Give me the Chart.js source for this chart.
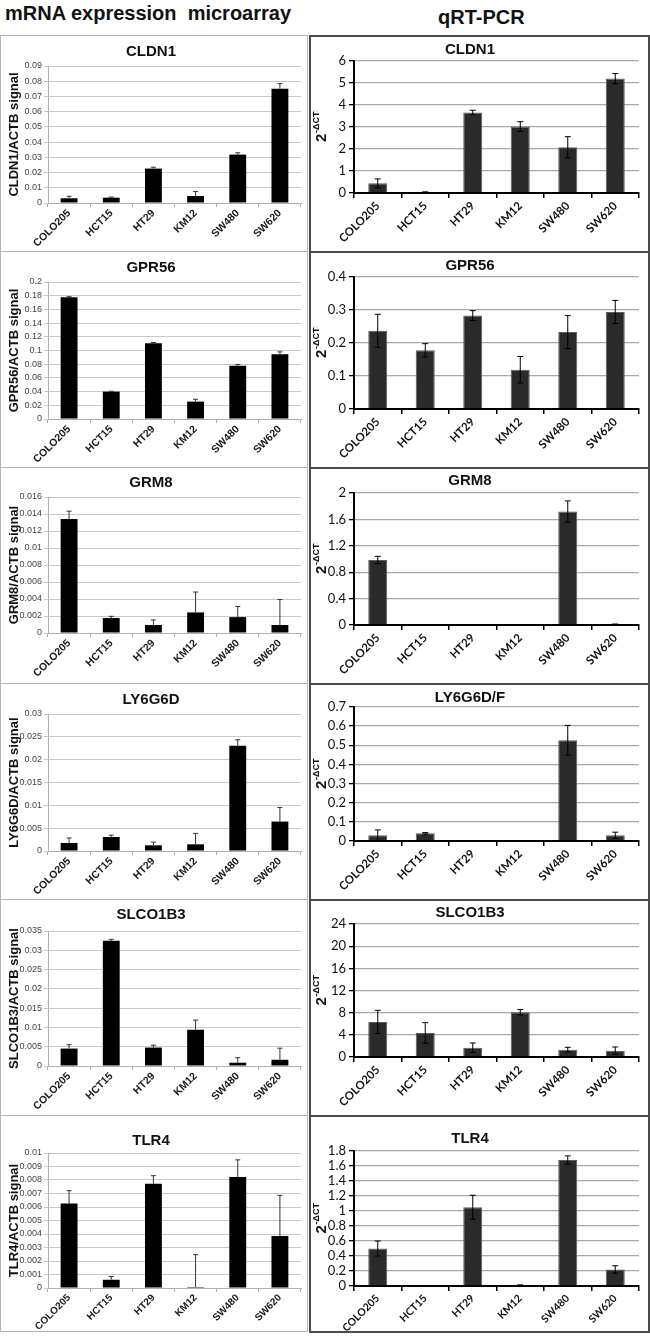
<!DOCTYPE html>
<html>
<head>
<meta charset="utf-8">
<script src="https://cdn.jsdelivr.net/npm/chart.js@4.4.1/dist/chart.umd.min.js"></script>
<style>
  body { margin: 0; background: #fff; width: 650px; height: 1336px; position: relative; overflow: hidden; }
  .hdr { position: absolute; font-family: Arial, "Liberation Sans", sans-serif; font-weight: bold; color: #111; white-space: pre; }
  .box { position: absolute; box-sizing: border-box; }
  .lbox { border: 1px solid #b4b4b4; }
  .rbox { border: 2px solid #4a4a4a; }
  canvas { position: absolute; }
</style>
</head>
<body>
<div class="hdr" style="left:5px; top:2px; font-size:20px;">mRNA expression  microarray</div>
<div class="hdr" style="left:438px; top:6px; font-size:20px;">qRT-PCR</div>
<div id="page"></div>
<script>
// cell lines on every x axis
var cellLines = ["COLO205", "HCT15", "HT29", "KM12", "SW480", "SW620"];

// microarray (left column): gene/ACTB signal, value and error
var genes = ["CLDN1", "GPR56", "GRM8", "LY6G6D", "SLCO1B3", "TLR4"];
var arrCLDN1 = [0.0031, 0.0035, 0.0226, 0.0046, 0.0318, 0.0751];
var errCLDN1 = [0.0013, 0.0004, 0.0009, 0.0029, 0.0012, 0.0033];
var arrGPR56 = [0.1776, 0.0400, 0.1107, 0.0254, 0.0776, 0.0946];
var errGPR56 = [0.0010, 0.0005, 0.0010, 0.0034, 0.0020, 0.0034];
var arrGRM8 = [0.0134, 0.00176, 0.00094, 0.00242, 0.00187, 0.00094];
var errGRM8 = [0.00093, 0.0002, 0.0006, 0.0024, 0.00125, 0.0030];
var arrLY6G6D = [0.00176, 0.00307, 0.00124, 0.00146, 0.02305, 0.00644];
var errLY6G6D = [0.0011, 0.0004, 0.0007, 0.0024, 0.0013, 0.0031];
var arrSLCO1B3 = [0.00452, 0.03244, 0.00478, 0.0094, 0.00085, 0.00162];
var errSLCO1B3 = [0.0010, 0.0004, 0.0006, 0.0025, 0.0013, 0.0030];
var arrTLR4 = [0.00626, 0.00061, 0.00772, 0.00007, 0.00823, 0.00386];
var errTLR4 = [0.00095, 0.00024, 0.0006, 0.0024, 0.00126, 0.0030];

// qRT-PCR (right column): 2^-dCT, value and error
var pcrTitles = ["CLDN1", "GPR56", "GRM8", "LY6G6D/F", "SLCO1B3", "TLR4"];
var pcrCLDN1 = [0.44, 0.04, 3.66, 3.02, 2.08, 5.20];
var pcrErrCLDN1 = [0.20, 0.01, 0.10, 0.22, 0.48, 0.23];
var pcrGPR56 = [0.237, 0.178, 0.283, 0.119, 0.233, 0.294];
var pcrErrGPR56 = [0.050, 0.020, 0.015, 0.040, 0.050, 0.035];
var pcrGRM8 = [0.985, 0, 0, 0, 1.72, 0.01];
var pcrErrGRM8 = [0.055, 0, 0, 0, 0.16, 0.005];
var pcrLY6G6D = [0.030, 0.040, 0, 0, 0.526, 0.030];
var pcrErrLY6G6D = [0.028, 0.004, 0, 0, 0.078, 0.016];
var pcrSLCO1B3 = [6.33, 4.34, 1.69, 8.08, 1.33, 1.15];
var pcrErrSLCO1B3 = [2.10, 1.86, 0.84, 0.48, 0.42, 0.66];
var pcrTLR4 = [0.50, 0, 1.05, 0.01, 1.68, 0.22];
var pcrErrTLR4 = [0.10, 0, 0.16, 0.005, 0.055, 0.05];

// axis tops and steps
var arrMax = [0.09, 0.2, 0.016, 0.03, 0.035, 0.01];
var arrStep = [0.01, 0.02, 0.002, 0.005, 0.005, 0.001];
var pcrMax = [6, 0.4, 2, 0.7, 24, 1.8];
var pcrStep = [1, 0.1, 0.4, 0.1, 4, 0.2];

var arrValues = [arrCLDN1, arrGPR56, arrGRM8, arrLY6G6D, arrSLCO1B3, arrTLR4];
var arrErrors = [errCLDN1, errGPR56, errGRM8, errLY6G6D, errSLCO1B3, errTLR4];
var pcrValues = [pcrCLDN1, pcrGPR56, pcrGRM8, pcrLY6G6D, pcrSLCO1B3, pcrTLR4];
var pcrErrors = [pcrErrCLDN1, pcrErrGPR56, pcrErrGRM8, pcrErrLY6G6D, pcrErrSLCO1B3, pcrErrTLR4];

var ROW_H = 216, FIRST_ROW = 35;
var ARIAL = "Arial, 'Liberation Sans', sans-serif";
var CAL = "Lato, 'Open Sans', sans-serif";

// per row: plot top / zero line offsets inside the panel
var leftTop = [31, 31, 30, 31, 32, 38], leftZero = [168, 168, 166, 168, 167, 173];
var rightTop = [26, 26, 26, 24, 25, 36], rightZero = [158, 158, 158, 158, 158, 171];
var titleY = [16, 16, 15, 16, 15, 25];
var labelSize = [10.5, 10.5, 10.5, 10.5, 10.5, 10];
var rLabelSize = [11.5, 11.5, 11.5, 11.5, 11.5, 10.5];

//draws the error whiskers from the dataset's errors array
var errorBars = {
    id: "errorBars",
    afterDatasetsDraw: function(chart, args, opts) {
        var ctx = chart.ctx, ys = chart.scales.y;
        var ds = chart.data.datasets[0];
        var meta = chart.getDatasetMeta(0);
        ctx.save();
        ctx.strokeStyle = opts.color;
        ctx.lineWidth = opts.width;
        meta.data.forEach(function(bar, i) {
            var v = ds.data[i], e = ds.errors[i];
            if (!e) return;
            var yTop = ys.getPixelForValue(v + e);
            var yLow = opts.plusOnly ? ys.getPixelForValue(v) : ys.getPixelForValue(Math.max(0, v - e));
            var c = opts.cap;
            ctx.beginPath();
            ctx.moveTo(bar.x, yTop); ctx.lineTo(bar.x, yLow);
            ctx.moveTo(bar.x - c, yTop); ctx.lineTo(bar.x + c, yTop);
            if (!opts.plusOnly && v - e > 0) { ctx.moveTo(bar.x - c, yLow); ctx.lineTo(bar.x + c, yLow); }
            ctx.stroke();
        });
        ctx.restore();
    }
};

//panel heading and the 2^-dCT axis label
var panelText = {
    id: "panelText",
    afterDraw: function(chart, args, opts) {
        var ctx = chart.ctx;
        ctx.save();
        ctx.fillStyle = "#111";
        ctx.textAlign = "center";
        ctx.textBaseline = "middle";
        ctx.font = "bold 15px " + ARIAL;
        ctx.fillText(opts.title, opts.titleX, opts.titleY);
        if (opts.dct) {
            var cy = (chart.chartArea.top + chart.chartArea.bottom) / 2;
            ctx.translate(opts.dctX, cy);
            ctx.rotate(-Math.PI / 2);
            ctx.textAlign = "left";
            ctx.font = "bold 15px " + ARIAL;
            var w2 = ctx.measureText("2").width;
            ctx.font = "bold 9px " + ARIAL;
            var ws = ctx.measureText("-\u0394CT").width;
            var x0 = -(w2 + ws) / 2;
            ctx.font = "bold 15px " + ARIAL;
            ctx.fillText("2", x0, 2);
            ctx.font = "bold 9px " + ARIAL;
            ctx.fillText("-\u0394CT", x0 + w2 + 0.5, -3);
        }
        ctx.restore();
    }
};

function fmt(v) { return String(+v.toFixed(6)); }

function addBox(cls, x, y, w, h) {
    var d = document.createElement("div");
    d.className = "box " + cls;
    d.style.left = x + "px"; d.style.top = y + "px";
    d.style.width = w + "px"; d.style.height = h + "px";
    document.body.appendChild(d);
}

function addCanvas(x, y, w, h) {
    var c = document.createElement("canvas");
    c.width = w; c.height = h;
    c.style.left = x + "px"; c.style.top = y + "px";
    document.getElementById("page").appendChild(c);
    return c;
}

function leftChart(r) {
    var top = FIRST_ROW + r * ROW_H;
    addBox("lbox", 0, top, 308, ROW_H + 1);
    var W = 306, H = ROW_H - 2;
    var cv = addCanvas(1, top + 1, W, H);
    var zero = leftZero[r] - 1, axisX = 47;
    new Chart(cv.getContext("2d"), {
        type: "bar",
        data: { labels: cellLines, datasets: [{
            data: arrValues[r], errors: arrErrors[r],
            backgroundColor: "#000", borderWidth: 0,
            barPercentage: 0.4, categoryPercentage: 1
        }] },
        options: {
            responsive: false, animation: false,
            layout: { padding: { top: leftTop[r] - 1, right: 6, left: 0, bottom: 0 } },
            plugins: {
                legend: { display: false }, tooltip: { enabled: false },
                errorBars: { color: "#333", width: 1, cap: 2.5, plusOnly: true },
                panelText: { title: genes[r], titleX: 150, titleY: titleY[r] }
            },
            scales: {
                x: {
                    grid: { display: true, drawOnChartArea: false, tickLength: 4, color: "#b0b0b0" },
                    border: { color: "#b0b0b0", width: 1 },
                    ticks: { autoSkip: false, minRotation: 45, maxRotation: 45, padding: 0, color: "#1a1a1a",
                             font: { family: ARIAL, size: labelSize[r], weight: "bold" } },
                    afterFit: function(s) { s.height = H - zero; }
                },
                y: {
                    min: 0, max: arrMax[r],
                    ticks: { autoSkip: false, stepSize: arrStep[r], callback: fmt, color: "#444", padding: 2,
                             font: { family: ARIAL, size: 9 } },
                    grid: { color: "#c8c8c8", tickLength: 4 },
                    border: { color: "#b0b0b0", width: 1 },
                    title: { display: true, text: genes[r] + "/ACTB signal", color: "#111",
                             font: { family: ARIAL, size: 13, weight: "bold" }, padding: { top: 6, bottom: 0 } },
                    afterFit: function(s) { s.width = axisX; }
                }
            }
        },
        plugins: [errorBars, panelText]
    });
}

function rightChart(r) {
    var top = FIRST_ROW + r * ROW_H;
    addBox("rbox", 309, top, 341, ROW_H + 2);
    var W = 337, H = ROW_H - 2;
    var cv = addCanvas(311, top + 2, W, H);
    var zero = rightZero[r] - 2, axisX = 354 - 311;
    new Chart(cv.getContext("2d"), {
        type: "bar",
        data: { labels: cellLines, datasets: [{
            data: pcrValues[r], errors: pcrErrors[r],
            backgroundColor: "#2a2a2a", borderColor: "#5a5a5a", borderWidth: 1,
            barPercentage: 0.4, categoryPercentage: 1
        }] },
        options: {
            responsive: false, animation: false,
            layout: { padding: { top: rightTop[r] - 2, right: 9, left: 0, bottom: 0 } },
            plugins: {
                legend: { display: false }, tooltip: { enabled: false },
                errorBars: { color: "#000", width: 1, cap: 3, plusOnly: false },
                panelText: { title: pcrTitles[r], titleX: 159, titleY: titleY[r] - 3, dct: true, dctX: 9 }
            },
            scales: {
                x: {
                    grid: { display: true, drawOnChartArea: false, tickLength: 5, color: "#000", lineWidth: 1.5 },
                    border: { color: "#000", width: 2 },
                    ticks: { autoSkip: false, minRotation: 45, maxRotation: 45, padding: 1, color: "#111",
                             font: { family: CAL, size: rLabelSize[r], weight: "bold" } },
                    afterFit: function(s) { s.height = H - zero; }
                },
                y: {
                    min: 0, max: pcrMax[r],
                    ticks: { autoSkip: false, stepSize: pcrStep[r], callback: fmt, color: "#111", padding: 3,
                             font: { family: CAL, size: 13 } },
                    grid: { color: "#a8a8a8", lineWidth: 1.3, tickLength: 5, tickColor: "#000" },
                    border: { color: "#000", width: 2 },
                    afterFit: function(s) { s.width = axisX; }
                }
            }
        },
        plugins: [errorBars, panelText]
    });
}

for (var r = 0; r < 6; r++) {
    leftChart(r);
    rightChart(r);
}
</script>
</body>
</html>
